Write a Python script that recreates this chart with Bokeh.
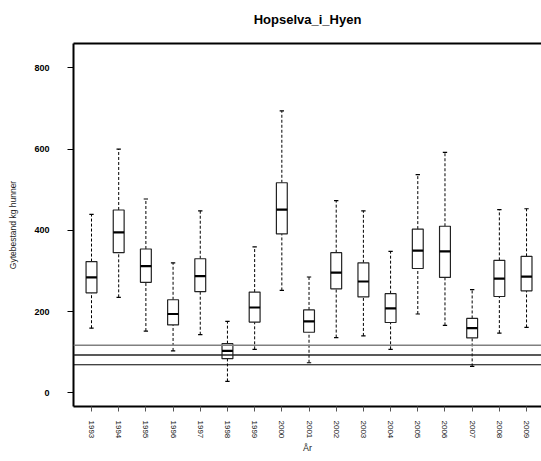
from bokeh.plotting import figure
from bokeh.models import ColumnDataSource, FixedTicker, LinearAxis, Span, Range1d
from bokeh.embed import file_html
from bokeh.resources import INLINE

# ---- data ----
title_text = "Hopselva_i_Hyen"
years = ["1993", "1994", "1995", "1996", "1997", "1998", "1999", "2000", "2001",
         "2002", "2003", "2004", "2005", "2006", "2007", "2008", "2009"]
whisker_hi = [439, 600, 477, 320, 448, 176, 359, 694, 285, 473, 448, 348, 537, 592, 254, 451, 453]
q3 = [323, 450, 354, 229, 330, 121, 248, 517, 204, 345, 320, 244, 403, 410, 183, 326, 336]
median = [284, 395, 312, 194, 287, 103, 210, 451, 176, 296, 274, 208, 350, 348, 159, 281, 286]
q1 = [246, 345, 272, 167, 249, 84, 174, 391, 149, 256, 236, 173, 306, 284, 135, 237, 251]
whisker_lo = [159, 235, 152, 103, 143, 28, 107, 252, 74, 136, 140, 107, 194, 166, 65, 147, 161]
ref_lines = [117, 93, 69]
y_ticks = [0, 200, 400, 600, 800]

FONT = "Liberation Sans"
pos = list(range(1, len(years) + 1))
box_w = 0.4
cap_w = 0.16

src = ColumnDataSource(dict(
    pos=pos, hi=whisker_hi, q3=q3, med=median, q1=q1, lo=whisker_lo,
    box_l=[x - box_w / 2 for x in pos], box_r=[x + box_w / 2 for x in pos],
    cap_l=[x - cap_w / 2 for x in pos], cap_r=[x + cap_w / 2 for x in pos],
))

p = figure(width=541, height=461, output_backend="svg", toolbar_location=None,
           x_range=Range1d(0.338, 17.55), y_range=Range1d(-33.7, 859.8),
           min_border_left=73, min_border_right=0, min_border_top=43, min_border_bottom=55,
           x_axis_location=None, y_axis_location=None)
p.outline_line_color = None
p.background_fill_color = "white"
p.border_fill_color = "white"
p.xgrid.visible = False
p.ygrid.visible = False
p.grid.grid_line_color = None
p.title.visible = False

# whiskers
p.segment(x0="pos", y0="q3", x1="pos", y1="hi", source=src, line_color="black",
          line_width=1, line_dash="3 2")
p.segment(x0="pos", y0="lo", x1="pos", y1="q1", source=src, line_color="black",
          line_width=1, line_dash="3 2")
p.segment(x0="cap_l", y0="hi", x1="cap_r", y1="hi", source=src, line_color="black", line_width=1.2)
p.segment(x0="cap_l", y0="lo", x1="cap_r", y1="lo", source=src, line_color="black", line_width=1.2)
# boxes
p.vbar(x="pos", width=box_w, bottom="q1", top="q3", source=src, fill_color="white",
       line_color="#222222", line_width=1.2)
p.segment(x0="box_l", y0="med", x1="box_r", y1="med", source=src, line_color="black", line_width=2.2)

# reference lines
p.add_layout(Span(location=ref_lines[0], dimension="width", line_color="#808080", line_width=1.6))
p.add_layout(Span(location=ref_lines[1], dimension="width", line_color="#222222", line_width=1.6))
p.add_layout(Span(location=ref_lines[2], dimension="width", line_color="black", line_width=1))

# axes
xa = LinearAxis(ticker=FixedTicker(ticks=pos),
                major_label_overrides={i: y for i, y in zip(pos, years)})
xa.major_label_orientation = "vertical"
xa.major_tick_out = 5
xa.major_tick_in = 0
xa.minor_tick_out = 0
xa.minor_tick_in = 0
xa.major_tick_line_color = "#555555"
xa.axis_line_width = 2
xa.axis_line_color = "black"
xa.major_label_standoff = 9
xa.major_label_text_font = FONT
xa.major_label_text_font_size = "8px"
xa.major_label_text_color = "#111111"
xa.axis_label = "År"
xa.axis_label_text_font = FONT
xa.axis_label_text_font_size = "9px"
xa.axis_label_text_font_style = "normal"
xa.axis_label_text_color = "#222222"
xa.axis_label_standoff = 2
p.add_layout(xa, "below")

ya = LinearAxis(ticker=FixedTicker(ticks=y_ticks))
ya.major_tick_out = 6
ya.major_tick_in = 0
ya.minor_tick_out = 0
ya.minor_tick_in = 0
ya.major_tick_line_color = "black"
ya.axis_line_width = 2
ya.axis_line_color = "black"
ya.major_label_standoff = 18
ya.major_label_text_font = FONT
ya.major_label_text_font_size = "9px"
ya.major_label_text_font_style = "bold"
ya.major_label_text_color = "black"
ya.axis_label = "Gytebestand kg hunner"
ya.axis_label_text_font = FONT
ya.axis_label_text_font_size = "8.5px"
ya.axis_label_text_font_style = "normal"
ya.axis_label_text_color = "#222222"
ya.axis_label_standoff = 13
p.add_layout(ya, "left")

# top frame line, carrying the chart title
ta = LinearAxis(ticker=FixedTicker(ticks=[]))
ta.major_tick_out = 0
ta.major_tick_in = 0
ta.minor_tick_out = 0
ta.minor_tick_in = 0
ta.major_label_text_font_size = "0px"
ta.axis_line_width = 2
ta.axis_line_color = "black"
ta.axis_label = title_text
ta.axis_label_text_font = FONT
ta.axis_label_text_font_size = "13px"
ta.axis_label_text_font_style = "bold"
ta.axis_label_text_color = "black"
ta.axis_label_standoff = 17
p.add_layout(ta, "above")

open("out.html", "w").write(file_html(p, INLINE))
